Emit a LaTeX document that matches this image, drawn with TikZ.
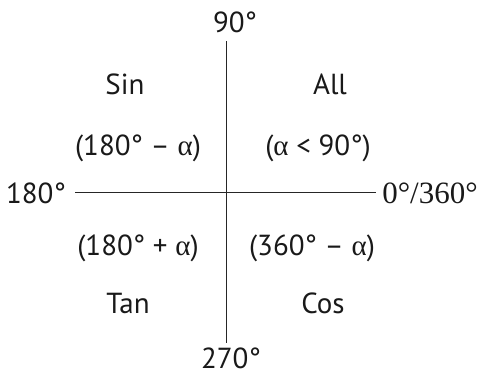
\documentclass[tikz,border=0pt]{standalone}
\usepackage{fontspec}
\setsansfont{PT Sans}
\newfontfamily\symfont{Liberation Serif}
\newcommand{\alp}{{\symfont α}}
\usetikzlibrary{positioning}

\begin{document}
\begin{tikzpicture}[
        x=1pt, y=-1pt,
        font=\sffamily\fontsize{29}{32}\selectfont,
        % Define the style for the axis lines
        axis/.style={line width=1pt, draw=black!85},
        % Define the style for the labels
        lbl/.style={anchor=base, inner sep=0pt, text=black!90}
    ]
    \useasboundingbox (0,0) rectangle (479,376);

    % ==========================
    % ANGLE LABELS
    % ==========================
    \node[lbl] (deg90)  at (235, 32)  {90°};
    \node[lbl] (deg270) at (231, 368) {270°};
    \node[lbl] (deg180) at (36, 203)  {180°};
    \node[lbl, font=\symfont\fontsize{31}{34}\selectfont] (deg360) at (430, 203) {0°/360°};

    % ==========================
    % AXES
    % ==========================
    \coordinate (axTop)    at (226, 41);
    \coordinate (axBottom) at (226, 343);
    \coordinate (axLeft)   at (75, 192);
    \coordinate (axRight)  at (376, 192);

    \draw[axis] (axTop) -- (axBottom);
    \draw[axis] (axLeft) -- (axRight);

    % ==========================
    % QUADRANT LABELS
    % ==========================
    \node[lbl] (sin)  at (125, 94)  {Sin};
    \node[lbl] (all)  at (330, 94)  {All};
    \node[lbl] (q2)   at (138, 155) {(180° – \alp)};
    \node[lbl] (q1)   at (318, 155) {(\alp{} < 90°)};
    \node[lbl] (q3)   at (138, 255) {(180° + \alp)};
    \node[lbl] (q4)   at (312, 255) {(360° – \alp)};
    \node[lbl] (tan)  at (128, 313) {Tan};
    \node[lbl] (cos)  at (323, 313) {Cos};

\end{tikzpicture}
\end{document}
